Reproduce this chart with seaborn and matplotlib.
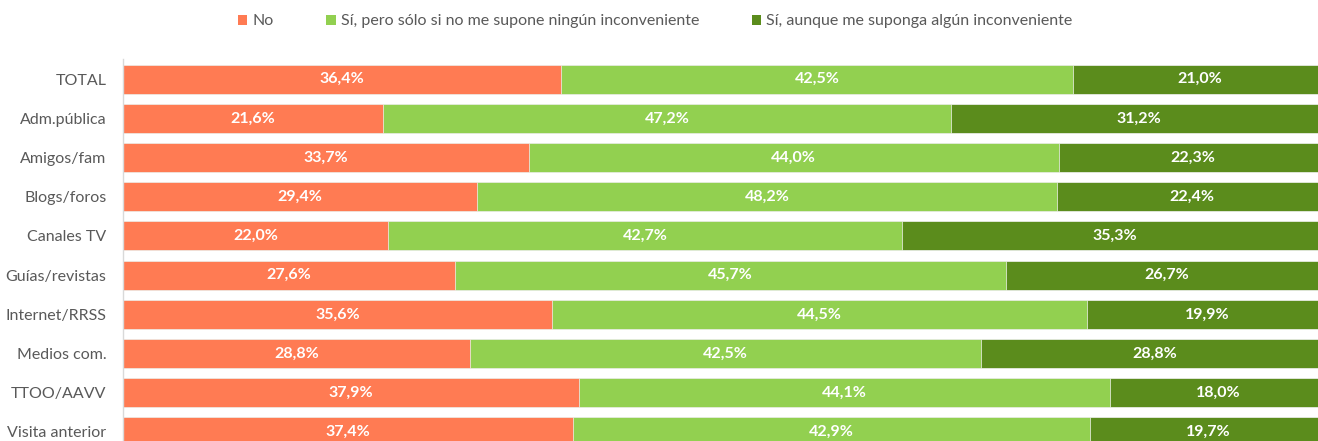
import numpy as np
import pandas as pd
import matplotlib.pyplot as plt
import seaborn as sns
from matplotlib.patches import Patch

categories = ['TOTAL', 'Adm.pública', 'Amigos/fam', 'Blogs/foros', 'Canales TV',
              'Guías/revistas', 'Internet/RRSS', 'Medios com.', 'TTOO/AAVV', 'Visita anterior']
no = [36.4, 21.6, 33.7, 29.4, 22.0, 27.6, 35.6, 28.8, 37.9, 37.4]
si_sin = [42.5, 47.2, 44.0, 48.2, 42.7, 45.7, 44.5, 42.5, 44.1, 42.9]
si_con = [21.0, 31.2, 22.3, 22.4, 35.3, 26.7, 19.9, 28.8, 18.0, 19.7]
series_names = ['No', 'Sí, pero sólo si no me supone ningún inconveniente',
                'Sí, aunque me suponga algún inconveniente']
colors = ['#FF7B53', '#92D050', '#5B8C1C']

sns.set_style('white')
plt.rcParams['font.family'] = ['Lato', 'DejaVu Sans']

df = pd.DataFrame({'cat': categories, 'no': no, 'si_sin': si_sin, 'si_con': si_con})
df['c1'] = df['no']
df['c2'] = df['no'] + df['si_sin']
df['c3'] = df['c2'] + df['si_con']

fig = plt.figure(figsize=(13.18, 4.41), dpi=100)
# plot area runs a bit past the right and bottom edges of the picture
ax = fig.add_axes([123 / 1318, (441 - 451.6) / 441, 1204 / 1318, (451.6 - 59.5) / 441])

# stack by overlaying cumulative totals
for col, c in zip(['c3', 'c2', 'c1'], colors[::-1]):
    sns.barplot(data=df, x=col, y='cat', orient='h', color=c, width=0.74,
                saturation=1, edgecolor='#F2F2F2', linewidth=0.5, ax=ax)

for i in range(len(categories)):
    starts = [0, df['c1'][i], df['c2'][i]]
    vals = [no[i], si_sin[i], si_con[i]]
    for s, v in zip(starts, vals):
        ax.text(s + v / 2, i, f'{v:.1f}%'.replace('.', ','), ha='center', va='center',
                color='white', fontsize=11.5, fontweight='bold')

ax.set_xlim(0, 100)
ax.set_ylim(9.5, -0.5)
ax.set_xlabel('')
ax.set_ylabel('')
ax.set_xticks([])
ax.tick_params(axis='y', length=0, pad=12, labelsize=11.5, labelcolor='#595959')
for s in ['top', 'right', 'bottom']:
    ax.spines[s].set_visible(False)
ax.spines['left'].set_color('#D9D9D9')
ax.spines['left'].set_linewidth(1)

handles = [Patch(facecolor=c, edgecolor='none') for c in colors]
fig.legend(handles, series_names, loc='upper center', bbox_to_anchor=(0.497, 1.0), ncol=3,
           frameon=False, fontsize=11.5, handlelength=0.6, handleheight=0.6, handletextpad=0.3,
           columnspacing=3.3, labelcolor='#595959')

fig.savefig('out.png', dpi=100)
